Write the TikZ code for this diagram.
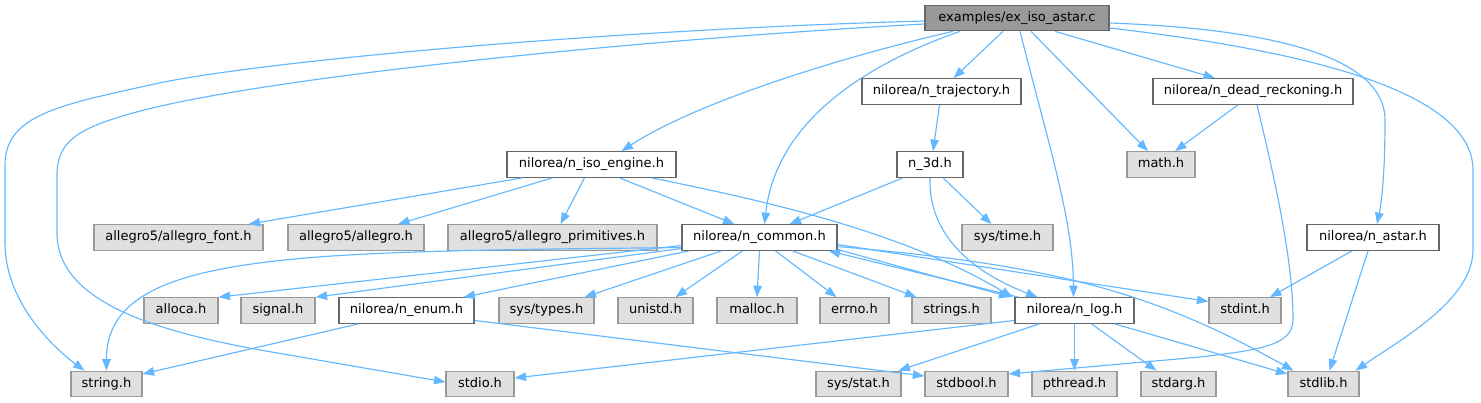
\documentclass[tikz,border=0pt]{standalone}
\usepackage{fontspec}
\setmainfont{DejaVu Sans}
\usetikzlibrary{arrows.meta,calc}
\definecolor{edgec}{HTML}{63B8FF}
\definecolor{boxline}{HTML}{666666}
\definecolor{grayline}{HTML}{999999}
\definecolor{grayfill}{HTML}{E0E0E0}
\definecolor{mainfill}{HTML}{999999}
\begin{document}
\begin{tikzpicture}[x=1pt,y=-1pt,
  nd/.style={rectangle, inner sep=0pt, minimum height=25.5pt, line width=1.2pt,
    font=\fontsize{13}{15}\selectfont, text height=9.5pt, text depth=2.6pt},
  wbox/.style={nd, draw=boxline, fill=white},
  gbox/.style={nd, draw=grayline, fill=grayfill},
  mbox/.style={nd, draw=boxline, fill=mainfill},
  dep/.style={draw=edgec, line width=1.15pt, -{Triangle[length=11.5pt,width=8.5pt]}}]
\useasboundingbox (0,0) rectangle (1481,403);
% row 0
\node[mbox, minimum width=184pt] (main) at (1017,18) {examples/ex\_iso\_astar.c};
% row 1
\node[wbox, minimum width=159pt] (traj) at (941.5,91.5) {nilorea/n\_trajectory.h};
\node[wbox, minimum width=200pt] (dead) at (1253,91.5) {nilorea/n\_dead\_reckoning.h};
% row 2
\node[wbox, minimum width=169pt] (iso) at (591.5,164.5) {nilorea/n\_iso\_engine.h};
\node[wbox, minimum width=66pt] (n3d) at (930,164.5) {n\_3d.h};
\node[gbox, minimum width=68pt] (math) at (1161,164.5) {math.h};
% row 3
\node[gbox, minimum width=169pt] (afont) at (178.5,237.5) {allegro5/allegro\_font.h};
\node[gbox, minimum width=136pt] (alleg) at (356,237.5) {allegro5/allegro.h};
\node[gbox, minimum width=209pt] (aprim) at (552.5,237.5) {allegro5/allegro\_primitives.h};
\node[wbox, minimum width=155pt] (common) at (759.5,237.5) {nilorea/n\_common.h};
\node[gbox, minimum width=91pt] (systime) at (1007.5,237.5) {sys/time.h};
\node[wbox, minimum width=132pt] (astar) at (1373,237.5) {nilorea/n\_astar.h};
% row 4
\node[gbox, minimum width=74pt] (alloca) at (181,310.5) {alloca.h};
\node[gbox, minimum width=74pt] (signal) at (278,310.5) {signal.h};
\node[wbox, minimum width=135pt] (enum) at (406.5,310.5) {nilorea/n\_enum.h};
\node[gbox, minimum width=95pt] (systypes) at (546.5,310.5) {sys/types.h};
\node[gbox, minimum width=75pt] (unistd) at (655.5,310.5) {unistd.h};
\node[gbox, minimum width=80pt] (malloc) at (757,310.5) {malloc.h};
\node[gbox, minimum width=69pt] (errno) at (854.5,310.5) {errno.h};
\node[gbox, minimum width=79pt] (strings) at (951.5,310.5) {strings.h};
\node[wbox, minimum width=119pt] (nlog) at (1074.5,310.5) {nilorea/n\_log.h};
\node[gbox, minimum width=72pt] (stdint) at (1245,310.5) {stdint.h};
% row 5
\node[gbox, minimum width=71pt] (string) at (106.5,384) {string.h};
\node[gbox, minimum width=68pt] (stdio) at (480,384) {stdio.h};
\node[gbox, minimum width=85pt] (sysstat) at (858.5,384) {sys/stat.h};
\node[gbox, minimum width=83pt] (stdbool) at (966.5,384) {stdbool.h};
\node[gbox, minimum width=85pt] (pthread) at (1074.5,384) {pthread.h};
\node[gbox, minimum width=75pt] (stdarg) at (1178.5,384) {stdarg.h};
\node[gbox, minimum width=71pt] (stdlib) at (1323.5,384) {stdlib.h};

% edges from main
\draw[dep] ($(main.west)+(0,3)$) .. controls (600,30) and (250,62) .. (150,85)
  .. controls (60,105) and (5,115) .. (5,165) -- (5,243)
  .. controls (5,300) and (50,345) .. ($(string.north)+(-22,0)$);
\draw[dep] ($(main.west)+(0,6)$) .. controls (600,42) and (250,80) .. (133,113)
  .. controls (80,128) and (57,140) .. (57,175) -- (57,233)
  .. controls (57,300) and (150,330) .. (260,350) -- ($(stdio.west)+(0,-2)$);
\draw[dep] ($(main.south)+(-64,0)$) .. controls (850,55) and (700,100) .. ($(iso.north)+(30,0)$);
\draw[dep] ($(main.south)+(-57,0)$) .. controls (850,70) and (775,130) .. ($(common.north)+(5,0)$);
\draw[dep] ($(main.south)+(-14,0)$) -- ($(traj.north)+(12,0)$);
\draw[dep] ($(main.south)+(3,0)$) .. controls (1050,150) and (1073,220) .. ($(nlog.north)+(-1,0)$);
\draw[dep] ($(main.south)+(14,0)$) -- ($(math.north)+(-13,0)$);
\draw[dep] ($(main.south)+(38,0)$) -- ($(dead.north)+(-38,0)$);
\draw[dep] ($(main.east)+(0,5)$) .. controls (1300,30) and (1385,65) .. (1385,120)
  .. controls (1385,170) and (1382,200) .. ($(astar.north)+(4,0)$);
\draw[dep] ($(main.east)+(0,10)$) .. controls (1300,50) and (1473,90) .. (1473,170) -- (1473,250)
  .. controls (1473,300) and (1400,340) .. ($(stdlib.north)+(32,0)$);
% trajectory, dead reckoning
\draw[dep] ($(traj.south)+(-2,0)$) -- ($(n3d.north)+(3,0)$);
\draw[dep] ($(dead.south)+(-15,0)$) -- ($(math.north)+(14,0)$);
\draw[dep] ($(dead.south)+(4,0)$) .. controls (1275,180) and (1293,260) .. (1293,320)
  .. controls (1293,345) and (1260,350) .. (1200,357) -- ($(stdbool.east)+(0,-10)$);
% n_3d
\draw[dep] ($(n3d.south)+(-27,0)$) -- ($(common.north)+(30,0)$);
\draw[dep] ($(n3d.south)+(13,0)$) -- ($(systime.north)+(-16,0)$);
\draw[dep] (n3d.south) .. controls (928,240) and (980,275) .. ($(nlog.north)+(-37,0)$);
% iso engine
\draw[dep] ($(iso.south)+(-69,0)$) -- ($(afont.north)+(70,0)$);
\draw[dep] ($(iso.south)+(-39,0)$) -- ($(alleg.north)+(42,0)$);
\draw[dep] ($(iso.south)+(-7,0)$) -- ($(aprim.north)+(8,0)$);
\draw[dep] ($(iso.south)+(28,0)$) -- ($(common.north)+(-25,0)$);
\draw[dep] ($(iso.south)+(60,0)$) .. controls (760,200) and (900,230) .. ($(nlog.north west)+(-2,0)$);
% astar
\draw[dep] ($(astar.south)+(-21,0)$) -- ($(stdint.north)+(25,0)$);
\draw[dep] ($(astar.south)+(-5,0)$) -- ($(stdlib.north)+(6,0)$);
% n_common
\draw[dep] ($(common.west)+(0,10)$) .. controls (300,252) and (106,250) .. (string.north);
\draw[dep] ($(common.west)+(0,8)$) -- (alloca.north east);
\draw[dep] ($(common.west)+(0,11)$) -- (signal.north east);
\draw[dep] ($(common.south west)+(8,0)$) -- ($(enum.north)+(57,0)$);
\draw[dep] ($(common.south)+(-38,0)$) -- ($(systypes.north)+(38,0)$);
\draw[dep] ($(common.south)+(-17,0)$) -- ($(unistd.north)+(20,0)$);
\draw[dep] (common.south) -- (malloc.north);
\draw[dep] ($(common.south)+(16,0)$) -- ($(errno.north)+(-18,0)$);
\draw[dep] ($(common.south)+(33,0)$) -- ($(strings.north)+(-35,0)$);
\draw[dep] ($(common.east)+(0,12)$) -- ($(nlog.north west)+(-4,0)$);
\draw[dep] ($(nlog.north west)+(4,0)$) -- ($(common.south east)+(-9,0)$);
\draw[dep] ($(common.east)+(0,7)$) -- ($(stdint.west)+(0,-9)$);
\draw[dep] ($(common.east)+(0,9)$) .. controls (1050,265) and (1150,290) .. ($(stdlib.north)+(-30,0)$);
% n_enum
\draw[dep] ($(enum.south)+(-48,0)$) -- ($(string.east)+(0,-10)$);
\draw[dep] ($(enum.east)+(0,10)$) -- ($(stdbool.west)+(0,-8)$);
% n_log
\draw[dep] ($(nlog.west)+(0,10)$) -- ($(stdio.east)+(0,-6)$);
\draw[dep] ($(nlog.south)+(-35,0)$) -- ($(sysstat.north)+(40,0)$);
\draw[dep] (nlog.south) -- (pthread.north);
\draw[dep] ($(nlog.south)+(17,0)$) -- ($(stdarg.north)+(-22,0)$);
\draw[dep] ($(nlog.south)+(40,0)$) -- ($(stdlib.west)+(0,-10)$);
\end{tikzpicture}
\end{document}
